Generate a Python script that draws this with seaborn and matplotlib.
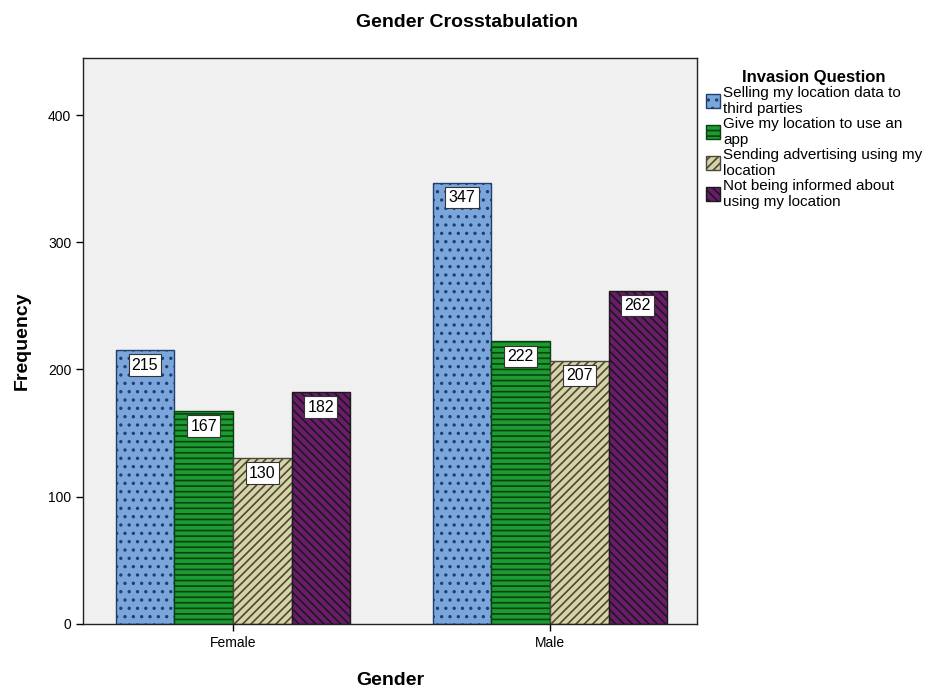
import pandas as pd
import matplotlib
matplotlib.use("Agg")
import matplotlib.pyplot as plt
import seaborn as sns

genders = ["Female", "Male"]
questions = [
    "Selling my location data to\nthird parties",
    "Give my location to use an\napp",
    "Sending advertising using my\nlocation",
    "Not being informed about\nusing my location",
]
female_counts = [215, 167, 130, 182]
male_counts = [347, 222, 207, 262]

colors = ["#7ba6dc", "#1e9a32", "#d8d3a6", "#6b1a6c"]
edge_colors = ["#1f3f73", "#08420f", "#4a483a", "#1a1a1a"]
hatches = ["..", "---", "////", "\\\\\\\\"]

df = pd.DataFrame({
    "Gender": [g for g in genders for _ in questions],
    "Question": questions * 2,
    "Frequency": female_counts + male_counts,
})

sns.set_style("white")
plt.rcParams["font.family"] = ["Liberation Sans", "DejaVu Sans"]
plt.rcParams["hatch.linewidth"] = 1.2
plt.rcParams["text.color"] = "black"
plt.rcParams["xtick.color"] = "black"
plt.rcParams["ytick.color"] = "black"
plt.rcParams["axes.labelcolor"] = "black"

fig = plt.figure(figsize=(9.33, 6.9), dpi=100)
ax = fig.add_axes([0.089, 0.096, 0.658, 0.82])
ax.set_facecolor("#f0f0f0")

sns.barplot(data=df, x="Gender", y="Frequency", hue="Question", hue_order=questions,
            order=genders, palette=colors, width=0.74, saturation=1, ax=ax)

for cont, ec, h in zip(ax.containers, edge_colors, hatches):
    for bar in cont:
        bar.set_hatch(h)
        bar.set_edgecolor(ec)
        bar.set_linewidth(1.0)
    ax.bar_label(cont, padding=-16, fontsize=11.5,
                 bbox=dict(boxstyle="square,pad=0.2", fc="white", ec="#333333", lw=0.8))

ax.set_ylim(0, 445)
ax.set_xlim(-0.473, 1.464)
ax.set_yticks([0, 100, 200, 300, 400])
ax.tick_params(axis="both", direction="out", length=5, width=1, labelsize=10, left=True, bottom=True)
for s in ax.spines.values():
    s.set_color("#222222")
    s.set_linewidth(1)

ax.set_xlabel("Gender", fontsize=14, fontweight="bold", labelpad=16)
ax.set_ylabel("Frequency", fontsize=14, fontweight="bold", labelpad=12)
fig.suptitle("Gender Crosstabulation", fontsize=14, fontweight="bold", x=0.5, y=0.98)

leg = ax.legend(title="Invasion Question", loc="upper left", bbox_to_anchor=(1.0, 0.995),
                frameon=False, fontsize=11, handlelength=0.9, handleheight=1.0,
                handletextpad=0.2, labelspacing=0.05, borderaxespad=0.2)
leg.get_title().set_fontweight("bold")
leg.get_title().set_fontsize(12)
for h, ec, hh in zip(leg.legend_handles, edge_colors, hatches):
    h.set_hatch(hh)
    h.set_edgecolor(ec)

fig.savefig("out.png", dpi=100)
